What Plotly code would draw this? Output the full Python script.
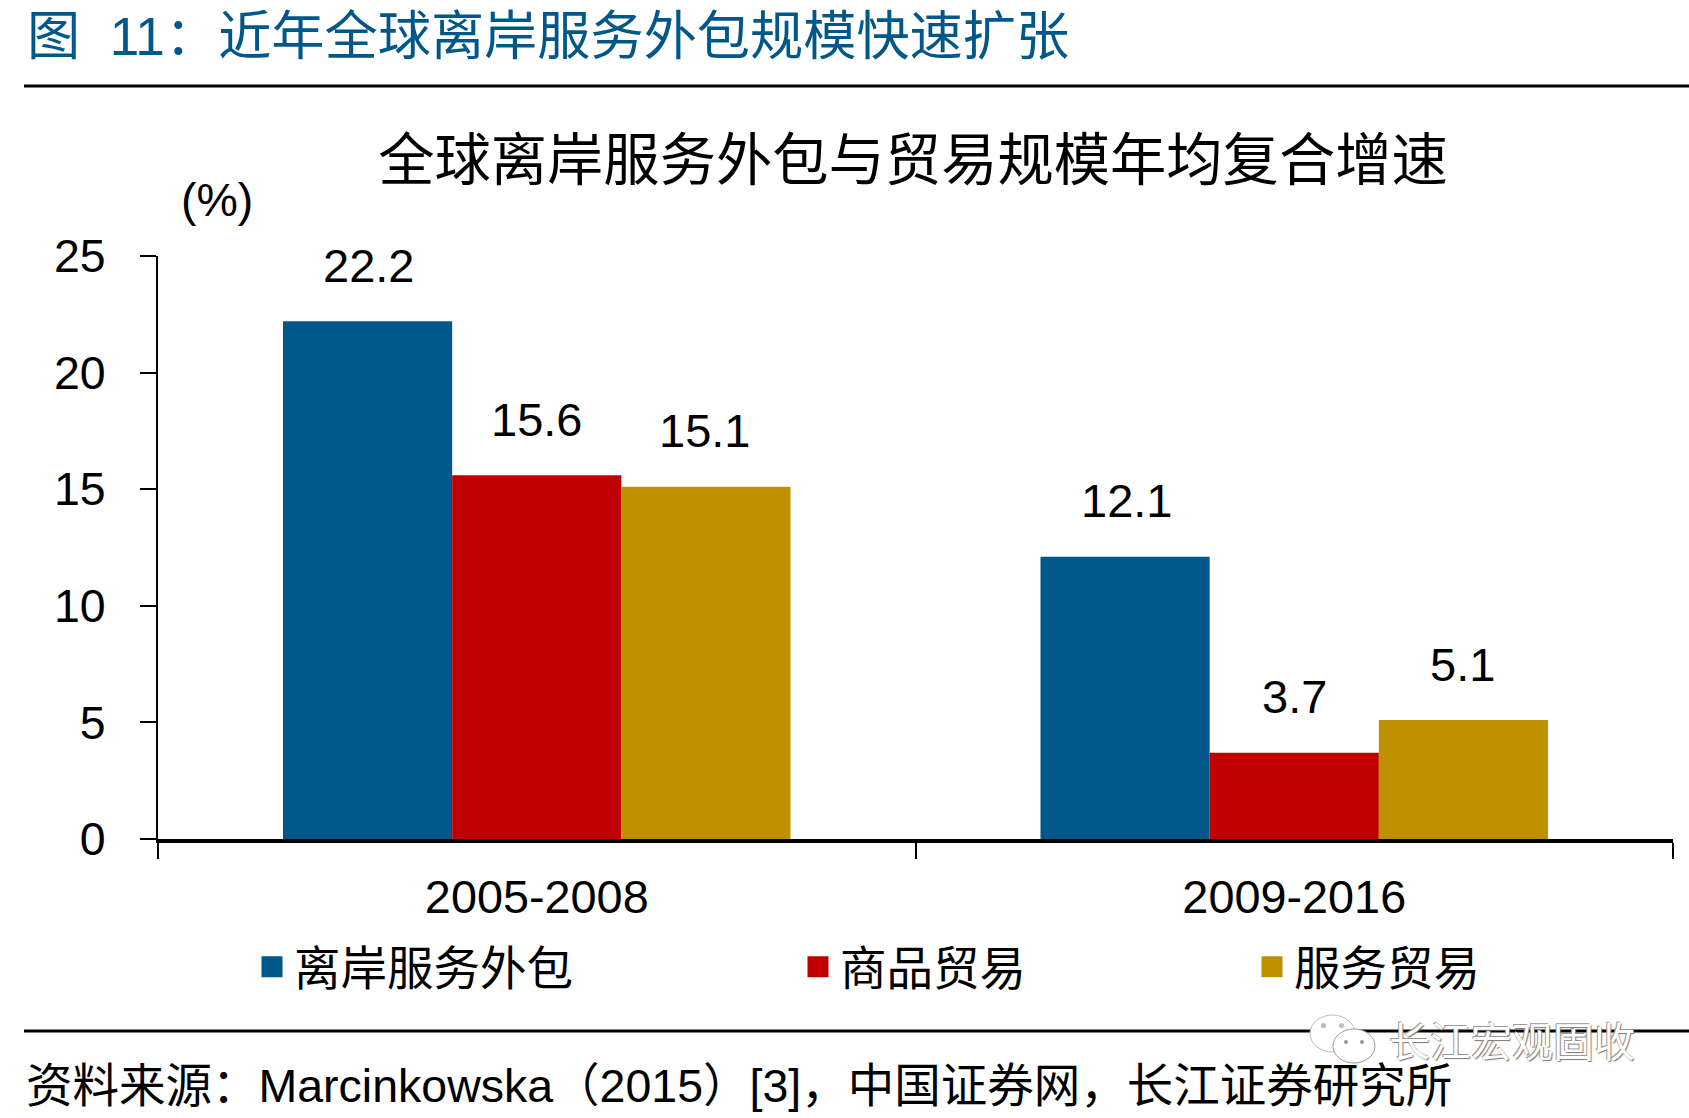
import plotly.graph_objects as go

periods = ["2005-2008", "2009-2016"]
series_names = ["离岸服务外包", "商品贸易", "服务贸易"]
offshore = [22.2, 12.1]
goods = [15.6, 3.7]
services = [15.1, 5.1]
series_values = [offshore, goods, services]
series_colors = ["#00578A", "#C00000", "#BF9000"]
y_ticks = [0, 5, 10, 15, 20, 25]

heading = "图  11：近年全球离岸服务外包规模快速扩张"
chart_title = "全球离岸服务外包与贸易规模年均复合增速"
unit = "(%)"
source = "资料来源：Marcinkowska（2015）[3]，中国证券网，长江证券研究所"
watermark = "长江宏观固收"

W, H = 1689, 1118
L, R, T, B = 158, 1673, 256, 839
FONT = "Liberation Sans, Noto Sans CJK SC, sans-serif"


def px(x):
    return (x - L) / (R - L)


def py(y):
    return (B - y) / (B - T)


fig = go.Figure()
BAR_STEP = 168
for name, vals, col in zip(series_names, series_values, series_colors):
    fig.add_trace(go.Bar(x=periods, y=vals, name=name, marker=dict(color=col, line=dict(width=0)),
                         showlegend=False, hoverinfo="x+y+name"))

legend_ids = ["legend", "legend2", "legend3"]
legend_x = [250, 796, 1250]
layout_legends = {}
for name, col, lid, lx in zip(series_names, series_colors, legend_ids, legend_x):
    fig.add_trace(go.Scatter(x=[periods[0]], y=[None], mode="markers", name=name, legend=lid,
                             marker=dict(symbol="square", size=16, color=col, line=dict(color=col, width=5))))
    layout_legends[lid] = dict(x=px(lx), y=py(967), xanchor="left", yanchor="middle", itemwidth=34,
                               bgcolor="rgba(0,0,0,0)", font=dict(size=46.5, family=FONT, color="#000"))

annotations = []
for k, vals in enumerate(series_values):
    for p, v in zip(periods, vals):
        annotations.append(dict(x=p, y=v, xref="x", yref="y", text=f"{v:.1f}", showarrow=False,
                                xshift=(k - 1) * BAR_STEP, yshift=56, xanchor="center", yanchor="middle",
                                font=dict(size=47, family=FONT, color="#000")))

annotations += [
    dict(x=px(25), y=py(36), xref="paper", yref="paper", text=heading, showarrow=False, xanchor="left",
         yanchor="middle", font=dict(size=53.2, family=FONT, color="#00578A")),
    dict(x=px(217), y=py(200), xref="paper", yref="paper", text=unit, showarrow=False, xanchor="center",
         yanchor="middle", font=dict(size=46.5, family=FONT, color="#000")),
    dict(x=px(24), y=py(1086), xref="paper", yref="paper", text=source, showarrow=False, xanchor="left",
         yanchor="middle", font=dict(size=46.5, family=FONT, color="#000")),
    dict(x=px(1387), y=py(1043), xref="paper", yref="paper", text=watermark, showarrow=False, xanchor="left",
         yanchor="middle", font=dict(size=41, family=FONT, color="#FFFFFF",
                                     shadow="1px 1px 1px #777, -1px -1px 0 #999")),
]


def ellipse(x0, y0, x1, y1, fill, line):
    return dict(type="circle", xref="paper", yref="paper", x0=px(x0), x1=px(x1), y0=py(y0), y1=py(y1),
                fillcolor=fill, line=dict(color=line, width=1 if line != fill else 0))


def rule(y, width=3):
    return dict(type="line", xref="paper", yref="paper", x0=px(24), x1=px(1689), y0=py(y), y1=py(y),
                line=dict(color="#000", width=width))


shapes = [
    rule(86),
    rule(1031),
    ellipse(1310, 1015, 1355, 1052, "#FFFFFF", "#BBBBBB"),
    ellipse(1321, 1023, 1326, 1028, "#BBBBBB", "#BBBBBB"),
    ellipse(1339, 1023, 1344, 1028, "#BBBBBB", "#BBBBBB"),
    ellipse(1333, 1029, 1375, 1063, "#FFFFFF", "#999999"),
    ellipse(1344, 1040, 1348, 1044, "#999999", "#999999"),
    ellipse(1360, 1040, 1364, 1044, "#999999", "#999999"),
]

fig.update_layout(
    width=W, height=H, autosize=False,
    margin=dict(l=L, r=W - R, t=T, b=H - B, pad=0),
    paper_bgcolor="#FFFFFF", plot_bgcolor="#FFFFFF",
    font=dict(family=FONT, color="#000"),
    barmode="group", bargap=0.33, bargroupgap=0,
    title=dict(text=chart_title, x=913 / W, xanchor="center", y=1 - 160 / H, yanchor="middle",
               font=dict(size=56.3, family=FONT, color="#000")),
    xaxis=dict(type="category", range=[-0.5, 1.5], tickson="boundaries", ticks="outside", ticklen=16,
               tickwidth=2, tickcolor="#000", showline=True, linecolor="#000", linewidth=4, showgrid=False,
               zeroline=False, ticklabelstandoff=14, tickfont=dict(size=46.8, family=FONT, color="#000")),
    yaxis=dict(range=[0, 25], tickvals=y_ticks, ticks="outside", ticklen=16, tickwidth=2, tickcolor="#000",
               showline=True, linecolor="#000", linewidth=2, showgrid=False, zeroline=False,
               ticklabelstandoff=25, tickfont=dict(size=46.5, family=FONT, color="#000")),
    annotations=annotations, shapes=shapes,
    **layout_legends,
)

fig.write_html("out.html", post_script="document.body.style.margin='0';",
               config={"displayModeBar": False})
